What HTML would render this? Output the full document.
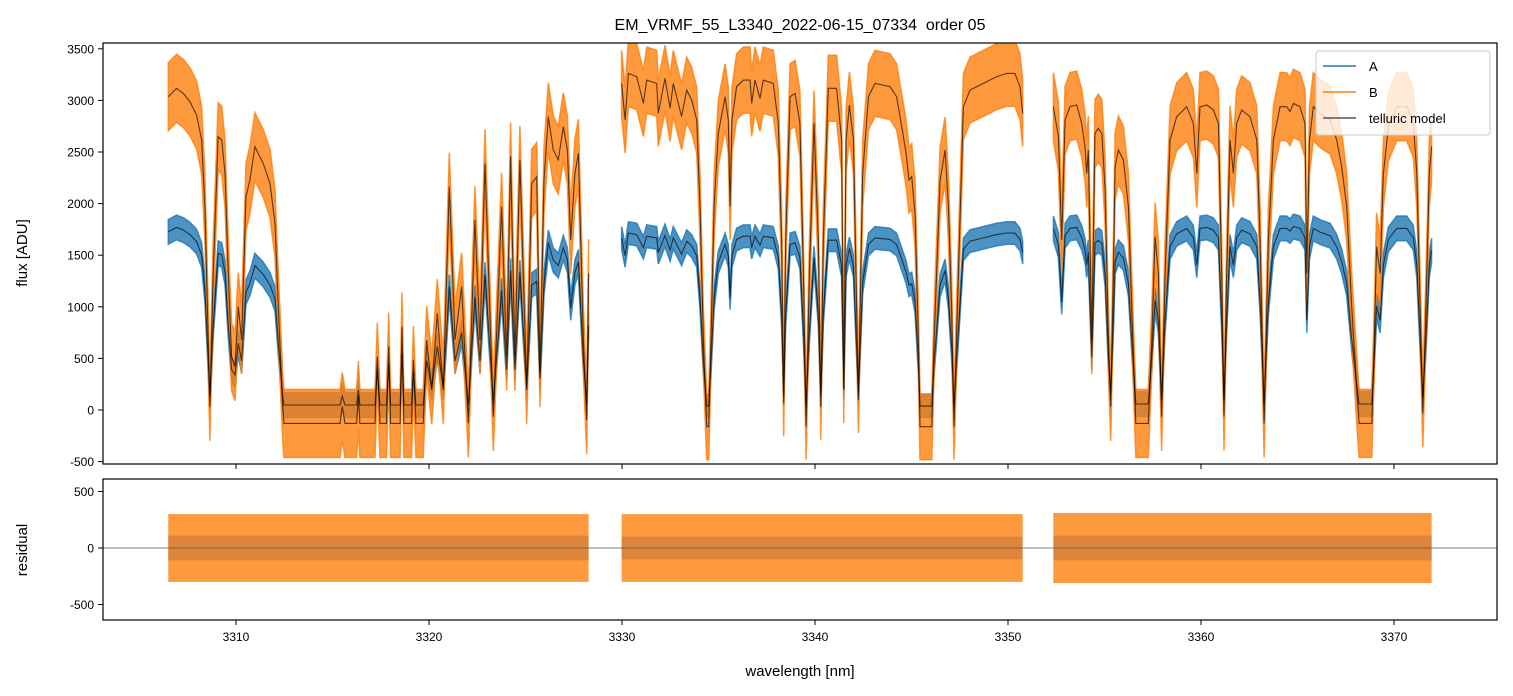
<!DOCTYPE html>
<html><head><meta charset="utf-8">
<style>
body{margin:0;background:#fff;}
svg{display:block;font-family:"Liberation Sans","DejaVu Sans",sans-serif;}
</style></head>
<body>
<svg id="chart" width="1513" height="696" viewBox="0 0 1513 696">
<defs>
<clipPath id="clipTop"><rect x="103" y="43" width="1394" height="421"/></clipPath>
<clipPath id="clipBot"><rect x="103" y="479" width="1394" height="141"/></clipPath>
</defs>
<text x="800" y="30" font-size="16" text-anchor="middle">EM_VRMF_55_L3340_2022-06-15_07334&#160; order 05</text>
<g id="topPlot" clip-path="url(#clipTop)"></g>
<g id="botPlot" clip-path="url(#clipBot)"></g>
<rect x="103" y="43" width="1394" height="421" fill="none" stroke="#000" stroke-width="1.2"/>
<rect x="103" y="479" width="1394" height="141" fill="none" stroke="#000" stroke-width="1.2"/>
<g id="axes"></g>
<text x="0" y="0" font-size="15" text-anchor="middle" transform="translate(27,253) rotate(-90)">flux [ADU]</text>
<text x="0" y="0" font-size="15" text-anchor="middle" transform="translate(27,550) rotate(-90)">residual</text>
<text x="800" y="676" font-size="15" text-anchor="middle">wavelength [nm]</text>
<g>
<rect x="1316" y="51" width="174" height="84" rx="3" fill="#fff" fill-opacity="0.8" stroke="#ccc"/>
<line x1="1323" y1="66" x2="1356" y2="66" stroke="#1f77b4" stroke-width="1.5"/>
<text x="1369" y="71" font-size="13">A</text>
<line x1="1323" y1="92" x2="1356" y2="92" stroke="#ff7f0e" stroke-width="1.5"/>
<text x="1369" y="97" font-size="13">B</text>
<line x1="1323" y1="118" x2="1356" y2="118" stroke="#555" stroke-width="1.5"/>
<text x="1369" y="123" font-size="13">telluric model</text>
</g>
</svg>
<script>
// ---- data ----
const seg1Wl=[3306.49,3306.92,3307.27,3307.61,3307.96,3308.22,3308.39,3308.65,3308.82,3309.08,3309.26,3309.43,3309.60,3309.77,3309.95,3310.12,3310.29,3310.52,3310.72,3310.98,3311.41,3311.76,3312.02,3312.19,3312.42,3312.48,3315.39,3315.51,3315.65,3316.25,3316.34,3316.42,3317.20,3317.32,3317.46,3317.80,3317.91,3318.01,3318.50,3318.60,3318.70,3319.10,3319.19,3319.32,3319.70,3319.88,3320.14,3320.43,3320.74,3321.05,3321.35,3321.69,3322.04,3322.38,3322.64,3322.90,3323.33,3323.76,3324.02,3324.23,3324.45,3324.71,3325.06,3325.32,3325.58,3325.75,3325.96,3326.18,3326.44,3326.70,3326.96,3327.17,3327.34,3327.56,3327.74,3328.00,3328.17,3328.27];
const seg1B=[3036,3117,3068,2987,2858,2616,1970,32,1324,2648,2616,2293,1324,517,420,1001,678,2067,2228,2551,2390,2196,1809,1001,32,-130,-130,32,-130,-130,145,-130,-130,517,-130,-130,614,-130,-130,807,-130,-130,484,-130,-130,678,193,936,193,2164,678,1195,-130,1841,678,2390,-65,1970,517,2455,517,2422,193,2196,2261,355,2228,2842,2519,2422,2745,2519,1647,2293,2487,678,-97,1324];
const seg1A=[1726,1769,1743,1700,1632,1503,1161,134,819,1520,1503,1332,819,391,340,647,476,1143,1228,1399,1314,1211,1076,647,134,48,48,134,48,48,194,48,48,391,48,48,442,48,48,545,48,48,373,48,48,476,219,613,219,1194,476,750,48,1093,476,1314,82,1161,391,1349,391,1332,219,1211,1246,305,1228,1623,1452,1400,1572,1452,989,1332,1435,476,65,819];
const seg2Wl=[3329.98,3330.16,3330.33,3330.76,3331.11,3331.28,3331.80,3331.88,3332.23,3332.49,3332.66,3333.09,3333.35,3333.61,3333.87,3334.04,3334.22,3334.39,3334.49,3334.61,3334.77,3334.99,3335.34,3335.51,3335.60,3335.70,3335.94,3336.29,3336.63,3336.72,3336.89,3337.15,3337.32,3337.84,3338.10,3338.27,3338.38,3338.48,3338.71,3338.97,3339.22,3339.40,3339.54,3339.71,3339.95,3340.17,3340.30,3340.43,3340.69,3341.12,3341.38,3341.49,3341.61,3341.78,3341.99,3342.25,3342.47,3342.77,3343.11,3343.89,3344.23,3344.49,3344.72,3344.87,3345.01,3345.18,3345.36,3345.44,3346.05,3346.17,3346.48,3346.74,3346.91,3347.08,3347.20,3347.38,3347.69,3348.03,3348.72,3349.41,3349.93,3350.36,3350.62,3350.76];
const seg2B=[3165,2810,3262,3230,2971,3197,3165,2874,3214,2923,3165,2842,3100,3004,2810,1970,678,-162,-162,678,1970,2681,3036,2810,1970,2810,3133,3197,3197,2971,3197,3020,3197,3165,2778,1647,64,1647,3036,3068,2778,1324,-162,1324,2778,1647,32,1647,3117,3117,2616,193,2616,2955,2616,97,2293,3036,3165,3133,3036,2745,2487,2228,2261,1905,678,-162,-162,678,2228,2519,1970,1001,-162,1001,2939,3100,3165,3230,3262,3262,3133,2874];
const seg2A=[1668,1494,1715,1700,1573,1684,1668,1525,1692,1550,1668,1510,1636,1589,1494,1082,449,38,38,449,1082,1431,1604,1494,1082,1494,1652,1684,1684,1573,1684,1597,1684,1668,1478,924,146,924,1604,1620,1478,765,38,765,1478,924,132,924,1645,1645,1399,211,1399,1565,1399,164,1240,1604,1668,1652,1604,1462,1335,1209,1225,1051,449,38,38,449,1209,1352,1082,607,38,607,1557,1636,1668,1700,1715,1715,1652,1525];
const seg3Wl=[3352.35,3352.61,3352.78,3352.96,3353.21,3353.56,3353.82,3353.99,3354.08,3354.16,3354.34,3354.51,3354.68,3354.86,3355.03,3355.20,3355.32,3355.46,3355.55,3355.72,3355.98,3356.24,3356.41,3356.62,3357.27,3357.45,3357.62,3357.79,3357.96,3358.14,3358.40,3358.74,3359.26,3359.60,3359.78,3359.95,3360.30,3360.64,3360.90,3361.07,3361.19,3361.33,3361.50,3361.68,3361.85,3362.11,3362.54,3362.89,3363.06,3363.27,3363.49,3363.75,3364.10,3364.44,3364.61,3364.79,3365.13,3365.39,3365.48,3365.62,3365.82,3366.17,3366.69,3367.03,3367.29,3367.55,3367.81,3368.07,3368.19,3368.85,3368.98,3369.10,3369.28,3369.45,3369.71,3370.14,3370.66,3371.00,3371.18,3371.35,3371.49,3371.66,3371.83,3371.95];
const seg3B=[2939,2648,1647,2810,2939,2955,2778,2551,2293,2519,678,2681,2729,2681,2132,678,32,1324,2358,2519,2422,1970,1001,-130,-130,678,1679,1324,-65,1324,2616,2842,2939,2778,2293,2939,2955,2907,2778,1324,-65,1324,2616,2293,2778,2907,2842,2616,1647,-130,1647,2616,2939,2939,2891,2971,2939,2778,1324,2616,2939,2874,2810,2616,2358,1970,1001,193,-130,-130,678,1582,1324,2293,2745,2939,2939,2778,2293,1001,-32,1001,2293,2551];
const seg3A=[1760,1599,1046,1689,1760,1769,1671,1546,1403,1528,510,1617,1644,1617,1314,510,153,867,1439,1528,1474,1224,688,58,58,510,1063,867,96,867,1582,1707,1760,1671,1403,1760,1769,1742,1671,867,96,867,1582,1403,1671,1742,1707,1582,1046,63,1046,1582,1760,1760,1734,1778,1760,1671,867,1582,1760,1724,1689,1582,1439,1224,688,242,58,58,510,1010,867,1403,1654,1760,1760,1671,1403,688,116,688,1403,1546];
const noiseB=[330,320,330];
const noiseA=[120,110,120];
const residNoiseB=[300,300,310];
const residNoiseA=[110,100,110];
const yTicksTop=[-500,0,500,1000,1500,2000,2500,3000,3500];
const yTicksBot=[-500,0,500];
const xTicks=[3310,3320,3330,3340,3350,3360,3370];

// ---- scales ----
const X=w=>236+(w-3310)*19.3;
const Y=f=>410-f*0.1032;
const R=r=>548-r*0.113;
const NS='http://www.w3.org/2000/svg';
function mk(tag,attrs,parent){const e=document.createElementNS(NS,tag);for(const k in attrs)e.setAttribute(k,attrs[k]);parent.appendChild(e);return e;}
const gTop=document.getElementById('topPlot'),gBot=document.getElementById('botPlot'),gAx=document.getElementById('axes');

const segs=[[seg1Wl,seg1B,seg1A],[seg2Wl,seg2B,seg2A],[seg3Wl,seg3B,seg3A]];
segs.forEach((s,i)=>{
  const [wl,b,a]=s;
  function band(vals,n,color,op){
    let up=wl.map((w,j)=>X(w).toFixed(1)+','+Y(vals[j]+n).toFixed(1));
    let dn=wl.map((w,j)=>X(w).toFixed(1)+','+Y(vals[j]-n).toFixed(1)).reverse();
    return mk('polygon',{points:up.concat(dn).join(' '),fill:color,'fill-opacity':op,stroke:color,'stroke-opacity':op,'stroke-width':1.5},gTop);
  }
  const ab=band(a,noiseA[i],'#1f77b4',0.8);
  
  
  const bb=band(b,noiseB[i],'#ff7f0e',0.8);
  
  
  [b,a].forEach(vals=>{
    const ml=mk('polyline',{points:wl.map((w,j)=>X(w).toFixed(1)+','+Y(vals[j]).toFixed(1)).join(' '),fill:'none',stroke:'#000','stroke-opacity':0.65,'stroke-width':1.1},gTop);
    
    
  });
  const w0=wl[0],w1=wl[wl.length-1];
  const rb=mk('rect',{x:X(w0),y:R(residNoiseB[i]),width:X(w1)-X(w0),height:R(-residNoiseB[i])-R(residNoiseB[i]),fill:'#ff7f0e','fill-opacity':0.8},gBot);
  
  
  const ra=mk('rect',{x:X(w0),y:R(residNoiseA[i]),width:X(w1)-X(w0),height:R(-residNoiseA[i])-R(residNoiseA[i]),fill:'#c77a3a','fill-opacity':0.6},gBot);
  
  
});
const zl=mk('line',{x1:103,x2:1497,y1:R(0),y2:R(0),stroke:'#555','stroke-width':0.8},gBot);



yTicksTop.forEach(v=>{
  mk('line',{x1:98,x2:103,y1:Y(v),y2:Y(v),stroke:'#000'},gAx);
  const t=mk('text',{x:94,y:Y(v)+4.5,'font-size':12,'text-anchor':'end'},gAx);
  t.textContent=v;
  
  
});
yTicksBot.forEach(v=>{
  mk('line',{x1:98,x2:103,y1:R(v),y2:R(v),stroke:'#000'},gAx);
  const t=mk('text',{x:94,y:R(v)+4.5,'font-size':12,'text-anchor':'end'},gAx);
  t.textContent=v;
  
  
});
xTicks.forEach(v=>{
  mk('line',{x1:X(v),x2:X(v),y1:464,y2:469,stroke:'#000'},gAx);
  mk('line',{x1:X(v),x2:X(v),y1:620,y2:625,stroke:'#000'},gAx);
  const t=mk('text',{x:X(v),y:641,'font-size':12,'text-anchor':'middle'},gAx);
  t.textContent=v;
  
  
});
</script>
</body></html>
